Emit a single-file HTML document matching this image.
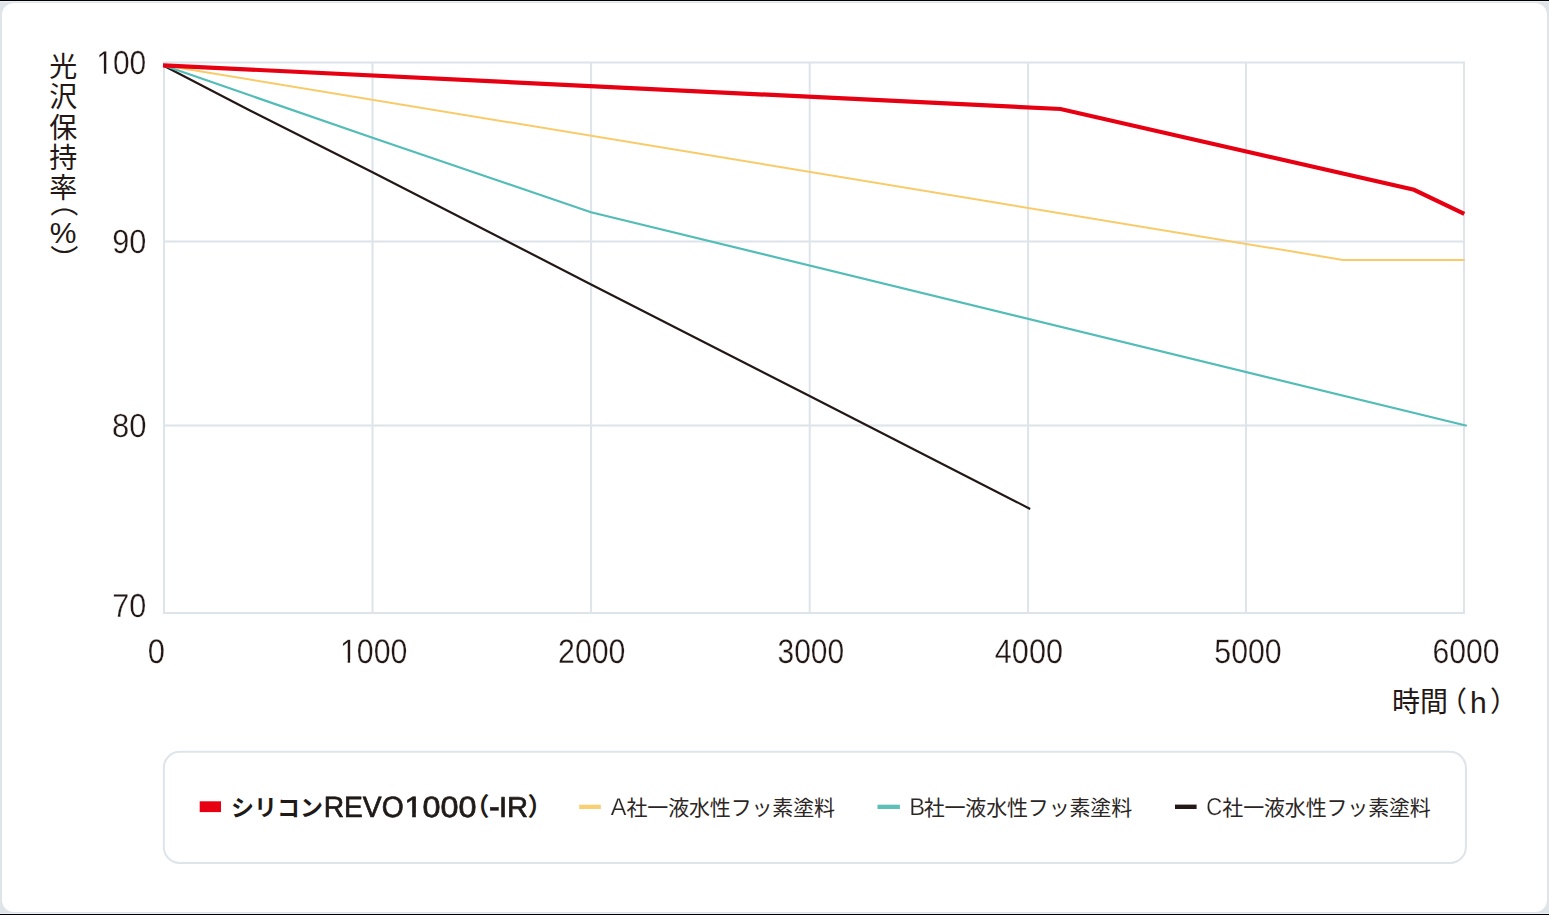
<!DOCTYPE html>
<html lang="ja">
<head>
<meta charset="utf-8">
<title>光沢保持率</title>
<style>
html,body{margin:0;padding:0}
body{width:1549px;height:915px;overflow:hidden;background:#dfe4e9;position:relative;font-family:"Liberation Sans",sans-serif}
#top,#bot{position:absolute;left:0;width:1549px;height:1px;background:#000}
#top{top:0}#bot{top:914px}
#top2,#bot2{position:absolute;left:0;width:1549px;height:1px;background:#eaeff5}
#top2{top:1px}#bot2{top:913px}
#card{position:absolute;left:2px;top:3px;width:1545px;height:909px;background:#fff;border-radius:12px}
svg{position:absolute;left:0;top:0}
.h{position:absolute;overflow:hidden;white-space:nowrap;line-height:1;color:transparent;font-family:"Liberation Sans",sans-serif}
</style>
</head>
<body>
<div id="card"></div>
<div id="top"></div><div id="top2"></div><div id="bot2"></div><div id="bot"></div>
<svg width="1549" height="915" viewBox="0 0 1549 915">
<path d="M164.0 61.4V614.0M372.5 61.4V614.0M591.1 61.4V614.0M809.7 61.4V614.0M1028.1 61.4V614.0M1246.0 61.4V614.0M1464.0 61.4V614.0M163.0 62.4H1465.0M163.0 241.6H1465.0M163.0 425.5H1465.0M163.0 613.0H1465.0" stroke="#dde4ea" stroke-width="2" fill="none"/>
<polyline points="163.3,65.6 250,110.5 372.5,172.2 591.1,284.4 809.6,396.0 1030.2,508.9" fill="none" stroke="#231815" stroke-width="2.2" stroke-linejoin="miter"/>
<polyline points="163.3,65.3 372.5,137.8 591.0,212.2 1466.8,425.8" fill="none" stroke="#52bcb6" stroke-width="2.2" stroke-linejoin="miter"/>
<polyline points="163.3,65.2 1343,259.9 1464.8,259.9" fill="none" stroke="#f9cb68" stroke-width="2.0" stroke-linejoin="miter"/>
<polyline points="163.0,65.3 1060.5,109.0 1414,189.8 1464.3,213.8" fill="none" stroke="#e60012" stroke-width="4.2" stroke-linejoin="miter"/>
<rect x="163.8" y="751.8" width="1302.1" height="111.2" rx="16" ry="16" fill="none" stroke="#dde4ea" stroke-width="2"/>
<rect x="199.7" y="801.3" width="21.3" height="10.8" fill="#e60012"/>
<rect x="579.2" y="804.7" width="21.6" height="4.3" fill="#f8cf73"/>
<rect x="877.5" y="804.7" width="22.4" height="4.3" fill="#5ebfba"/>
<rect x="1175" y="804.6" width="21.6" height="4.4" fill="#231815"/>
<g font-family="'Liberation Sans','Noto Sans CJK JP',sans-serif" fill="#231815" font-size="28" text-anchor="middle">
<text x="63.2" y="77">光</text>
<text x="63.2" y="107">沢</text>
<text x="63.2" y="137.5">保</text>
<text x="63.2" y="167.5">持</text>
<text x="63.2" y="198">率</text>
<text text-anchor="start" transform="translate(53.2,189) rotate(90)">（</text>
<text x="63.2" y="243" font-size="30">%</text>
<text text-anchor="start" transform="translate(53.2,244.5) rotate(90)">）</text>
</g>
<g font-family="'Liberation Sans','Noto Sans CJK JP',sans-serif" fill="#231815" font-size="28">
<text x="1392" y="712">時間</text>
<text x="1467" y="712" text-anchor="end">（</text>
<text x="1470" y="712.7" font-size="30">h</text>
<text x="1490" y="712">）</text>
</g>
<g font-family="'Liberation Sans','Noto Sans CJK JP',sans-serif" fill="#1f1a17" font-weight="bold">
<text x="231" y="816" font-size="23">シリコン</text>
<text x="489.5" y="816" font-size="25" text-anchor="end">（</text>
<text x="527.5" y="816" font-size="25">）</text>
</g>
<g font-family="'Liberation Sans','Noto Sans CJK JP',sans-serif" fill="#2b2624" font-size="21">
<text x="626.5" y="814.5" textLength="208.5">社一液水性フッ素塗料</text>
<text x="923.7" y="814.5" textLength="208.5">社一液水性フッ素塗料</text>
<text x="1222.3" y="814.5" textLength="208.5">社一液水性フッ素塗料</text>
</g>
<defs><filter id="gs" x="0" y="0" width="1549" height="915" filterUnits="userSpaceOnUse" color-interpolation-filters="sRGB"><feColorMatrix type="matrix" values="1 0 0 0 0  0 1 0 0 0  0 0 1 0 0  0 0 0 1 0"/></filter></defs>
<g font-family="Liberation Sans, sans-serif" text-rendering="geometricPrecision" filter="url(#gs)">
<g transform="translate(96.26,74) scale(0.9039,1)"><text font-size="33.19" fill="#231815" stroke="#fff" stroke-width="0.3">100</text><rect x="1.64" y="-3.38" width="6.81" height="4.28" fill="#fff"/><rect x="11.17" y="-3.38" width="6.55" height="4.28" fill="#fff"/></g>
<g transform="translate(112.21,253) scale(0.9168,1)"><text font-size="33.47" fill="#231815" stroke="#fff" stroke-width="0.3">90</text></g>
<g transform="translate(112.00,437) scale(0.9293,1)"><text font-size="33.33" fill="#231815" stroke="#fff" stroke-width="0.3">80</text></g>
<g transform="translate(112.28,617) scale(0.9227,1)"><text font-size="33.19" fill="#231815" stroke="#fff" stroke-width="0.3">70</text></g>
<g transform="translate(147.64,663) scale(0.9133,1)"><text font-size="33.90" fill="#231815" stroke="#fff" stroke-width="0.3">0</text></g>
<g transform="translate(339.94,663) scale(0.8938,1)"><text font-size="33.90" fill="#231815" stroke="#fff" stroke-width="0.3">1000</text><rect x="1.69" y="-3.43" width="6.95" height="4.33" fill="#fff"/><rect x="11.41" y="-3.43" width="6.68" height="4.33" fill="#fff"/></g>
<g transform="translate(558.03,663) scale(0.8939,1)"><text font-size="33.90" fill="#231815" stroke="#fff" stroke-width="0.3">2000</text></g>
<g transform="translate(777.51,663) scale(0.8833,1)"><text font-size="33.90" fill="#231815" stroke="#fff" stroke-width="0.3">3000</text></g>
<g transform="translate(994.85,663) scale(0.9030,1)"><text font-size="33.90" fill="#231815" stroke="#fff" stroke-width="0.3">4000</text></g>
<g transform="translate(1214.34,663) scale(0.8924,1)"><text font-size="33.90" fill="#231815" stroke="#fff" stroke-width="0.3">5000</text></g>
<g transform="translate(1432.62,663) scale(0.8886,1)"><text font-size="33.90" fill="#231815" stroke="#fff" stroke-width="0.3">6000</text></g>
<g transform="translate(323.64,817) scale(0.9605,1)"><text font-size="29.38" fill="#1f1a17" stroke="#1f1a17" stroke-width="0.7" stroke-linejoin="round">REVO</text></g>
<g transform="translate(404.44,817) scale(1.1013,1)"><text font-size="29.38" fill="#1f1a17" stroke="#1f1a17" stroke-width="0.7" stroke-linejoin="round">1000</text><rect x="1.19" y="-3.44" width="5.83" height="4.69" fill="#fff"/><rect x="10.35" y="-3.44" width="5.60" height="4.69" fill="#fff"/></g>
<g transform="translate(488.81,819) scale(0.8747,1)"><text font-size="38.40" fill="#1f1a17" stroke="#1f1a17" stroke-width="0.6" stroke-linejoin="round">-</text></g>
<g transform="translate(498.96,817) scale(1.0126,1)"><text font-size="28.78" fill="#1f1a17" stroke="#1f1a17" stroke-width="0.7" stroke-linejoin="round">IR</text></g>
<g transform="translate(610.63,815) scale(0.9575,1)"><text font-size="24.49" fill="#2b2624" stroke="#fff" stroke-width="0.25">A</text></g>
<g transform="translate(909.23,815) scale(0.9762,1)"><text font-size="24.35" fill="#2b2624" stroke="#fff" stroke-width="0.25">B</text></g>
<g transform="translate(1206.16,815) scale(0.8989,1)"><text font-size="24.51" fill="#2b2624" stroke="#fff" stroke-width="0.25">C</text></g>
</g>
</svg>
<div class="h" style="left:48px;top:52px;width:30px;height:206px;font-size:26px;writing-mode:vertical-rl">光沢保持率（%）</div>
<div class="h" style="left:1392px;top:686px;width:110px;height:30px;font-size:26px">時間（h）</div>
<div class="h" style="left:231px;top:794px;width:307px;height:26px;font-size:22px">シリコンREVO1000（-IR）</div>
<div class="h" style="left:610px;top:796px;width:226px;height:22px;font-size:18px">A社一液水性フッ素塗料</div>
<div class="h" style="left:910px;top:796px;width:222px;height:22px;font-size:18px">B社一液水性フッ素塗料</div>
<div class="h" style="left:1206px;top:796px;width:225px;height:22px;font-size:18px">C社一液水性フッ素塗料</div>
</body>
</html>
